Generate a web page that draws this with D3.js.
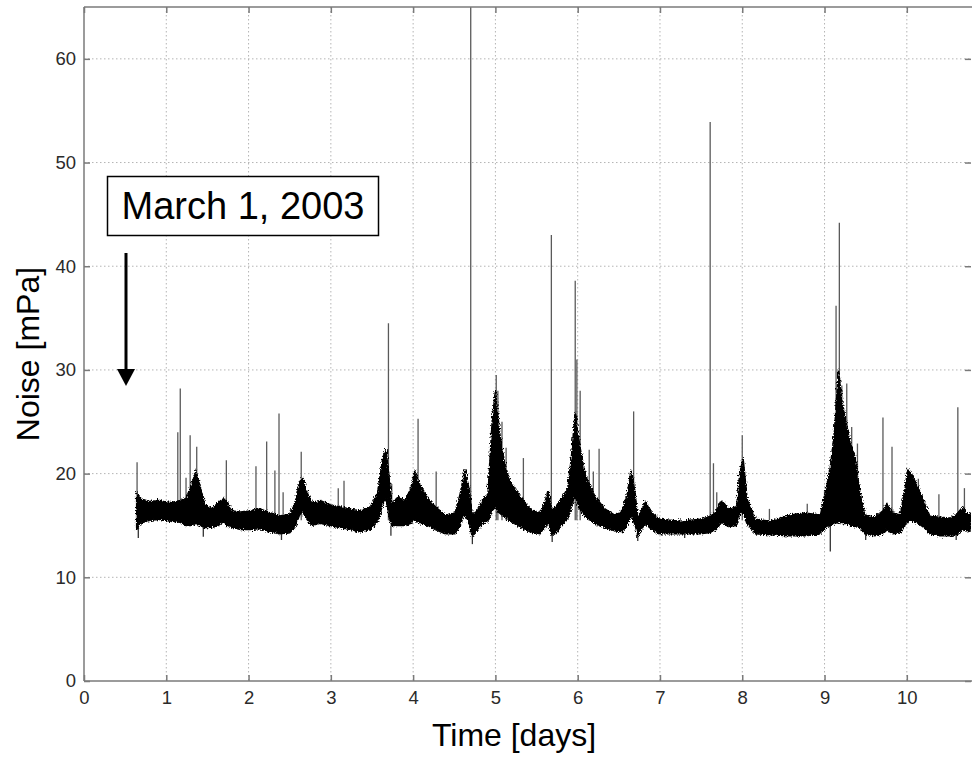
<!DOCTYPE html>
<html>
<head>
<meta charset="utf-8">
<script src="https://cdn.jsdelivr.net/npm/d3@7"></script>
<style>
  body { margin: 0; background: #fff; }
  svg { display: block; font-family: "Liberation Sans", Arial, sans-serif; }
</style>
</head>
<body>
<script>
// envelope of the noise band: time (days), upper and lower edge (mPa)
let bandT = [0.64, 0.68, 0.80, 0.92, 1.05, 1.17, 1.24, 1.31, 1.36, 1.41, 1.47, 1.56, 1.63, 1.70, 1.75, 1.81, 1.90, 2.02,
  2.14, 2.26, 2.38, 2.50, 2.56, 2.62, 2.66, 2.71, 2.77, 2.87, 2.99, 3.11, 3.23, 3.35, 3.48, 3.57, 3.63, 3.67, 3.71,
  3.74, 3.82, 3.90, 3.97, 4.02, 4.08, 4.18, 4.27, 4.39, 4.51, 4.57, 4.63, 4.68, 4.72, 4.78, 4.85, 4.91, 4.96, 5.00,
  5.05, 5.11, 5.18, 5.30, 5.42, 5.54, 5.60, 5.64, 5.69, 5.75, 5.82, 5.88, 5.93, 5.97, 6.00, 6.04, 6.10, 6.21, 6.33,
  6.45, 6.54, 6.60, 6.65, 6.70, 6.73, 6.82, 6.90, 7.00, 7.24, 7.49, 7.59, 7.67, 7.75, 7.83, 7.93, 7.97, 8.01, 8.06,
  8.16, 8.34, 8.58, 8.76, 8.95, 9.02, 9.07, 9.12, 9.17, 9.21, 9.26, 9.31, 9.37, 9.43, 9.49, 9.61, 9.71, 9.76, 9.83,
  9.92, 9.98, 10.01, 10.08, 10.14, 10.21, 10.28, 10.40, 10.53, 10.62, 10.68, 10.74, 10.78];
let bandHi = [18.2, 17.6, 17.3, 17.4, 17.2, 17.4, 17.6, 19.0, 20.2, 18.8, 17.0, 16.6, 17.2, 17.6, 17.0, 16.4, 16.3, 16.4,
  16.6, 16.2, 15.9, 16.1, 17.0, 19.2, 19.6, 18.2, 17.2, 17.4, 17.0, 16.8, 16.6, 16.4, 16.8, 18.2, 21.5, 22.4, 19.5,
  17.0, 17.8, 17.4, 18.5, 20.2, 19.0, 17.6, 16.8, 16.0, 16.2, 18.0, 20.4, 18.5, 16.0, 16.4, 17.6, 18.0, 25.0, 28.0,
  24.0, 21.0, 19.2, 17.8, 16.6, 16.2, 17.2, 18.4, 16.4, 17.0, 17.8, 18.6, 22.0, 26.0, 24.0, 22.0, 19.6, 17.8, 16.6,
  16.0, 16.4, 18.0, 20.4, 18.0, 15.6, 17.3, 16.2, 15.6, 15.4, 15.6, 15.8, 16.2, 17.4, 16.6, 16.8, 20.0, 21.5, 17.5,
  15.6, 15.4, 16.0, 16.2, 16.0, 18.6, 20.6, 24.0, 30.0, 27.0, 25.0, 23.0, 21.6, 18.2, 16.0, 15.8, 16.4, 17.1, 16.2,
  16.0, 18.6, 20.4, 19.6, 18.6, 17.2, 15.9, 15.8, 15.7, 16.2, 16.8, 16.0, 16.2];
let bandLo = [14.6, 15.2, 15.5, 15.6, 15.4, 15.3, 15.0, 15.0, 15.2, 15.0, 14.8, 14.8, 15.0, 15.4, 14.9, 14.8, 14.6, 14.6,
  14.7, 14.4, 14.2, 14.3, 14.8, 16.0, 16.4, 15.6, 15.0, 15.2, 15.0, 14.8, 14.6, 14.4, 14.6, 15.4, 17.0, 17.6, 15.8,
  15.0, 15.0, 15.0, 15.2, 15.6, 15.2, 15.0, 14.6, 14.2, 14.2, 15.0, 16.2, 15.2, 13.9, 14.6, 15.2, 15.4, 16.4, 16.8,
  16.2, 15.8, 15.4, 14.9, 14.4, 14.2, 14.8, 15.4, 14.0, 14.4, 15.2, 15.6, 17.0, 18.0, 17.0, 16.4, 15.8, 15.2, 14.8,
  14.5, 14.4, 15.0, 16.0, 15.0, 14.0, 15.2, 14.6, 14.2, 14.2, 14.2, 14.3, 14.5, 15.3, 14.9, 15.0, 16.0, 16.4, 15.2,
  14.2, 14.1, 14.0, 14.0, 14.2, 14.8, 15.0, 15.2, 15.4, 15.2, 15.2, 15.0, 14.9, 14.8, 14.2, 14.0, 14.2, 14.6, 14.2,
  14.3, 15.0, 15.4, 15.4, 15.2, 14.8, 14.2, 14.0, 14.0, 14.2, 14.6, 14.4, 14.5];

// isolated spikes above the band: time and peak
let spikeT = [0.645, 1.14, 1.17, 1.24, 1.29, 1.37, 1.41, 1.73, 2.09, 2.22, 2.32, 2.37, 2.42, 2.64, 3.09, 3.16, 3.70,
  3.74, 4.06, 4.28, 4.70, 5.01, 5.03, 5.08, 5.13, 5.34, 5.68, 5.97, 5.99, 6.03, 6.14, 6.19, 6.26, 6.68, 7.61, 7.65,
  7.69, 8.00, 8.33, 8.79, 9.00, 9.14, 9.18, 9.21, 9.27, 9.33, 9.40, 9.71, 9.82, 10.08, 10.14, 10.39, 10.62, 10.70];
let spikeTop = [21.1, 24.0, 28.2, 19.6, 23.7, 22.6, 19.0, 21.3, 20.7, 23.1, 20.3, 25.8, 18.2, 22.1, 18.6, 19.3, 34.5,
  19.0, 25.3, 20.2, 70.0, 29.5, 28.0, 25.0, 22.5, 21.5, 43.0, 38.6, 31.0, 28.0, 22.3, 20.2, 22.4, 26.0, 53.9, 21.0,
  18.2, 23.7, 16.6, 17.1, 18.4, 36.2, 44.2, 28.5, 28.7, 24.5, 22.9, 25.4, 22.6, 19.8, 19.5, 18.0, 26.4, 18.6];

// dips below the band: time and bottom
let dipT = [0.66, 1.45, 2.40, 3.73, 4.72, 5.69, 6.73, 7.30, 9.07, 9.50, 10.60];
let dipLow = [13.8, 13.9, 13.6, 14.0, 13.2, 13.4, 13.5, 13.8, 12.5, 13.6, 13.6];

let xTicks = [0, 1, 2, 3, 4, 5, 6, 7, 8, 9, 10];
let yTicks = [0, 10, 20, 30, 40, 50, 60];

const W = 972, H = 757;
const pL = 84, pT = 7, pR = 971, pB = 681;

const svg = d3.select("body").append("svg").attr("width", W).attr("height", H);

let x = d3.scaleLinear().domain([0, 10.78]).range([pL, pR]);
let y = d3.scaleLinear().domain([0, 65]).range([pB, pT]);

let defs = svg.append("defs");
defs.append("clipPath").attr("id", "plot")
  .append("rect").attr("x", pL).attr("y", pT).attr("width", pR - pL).attr("height", pB - pT);

let rough = defs.append("filter").attr("id", "rough")
  .attr("x", "-5%").attr("y", "-20%").attr("width", "110%").attr("height", "140%");
rough.append("feTurbulence").attr("type", "fractalNoise").attr("baseFrequency", "1.2 0.6")
  .attr("numOctaves", 2).attr("seed", 3).attr("result", "n");
rough.append("feDisplacementMap").attr("in", "SourceGraphic").attr("in2", "n")
  .attr("scale", 5).attr("xChannelSelector", "R").attr("yChannelSelector", "G");

//grid
let grid = svg.append("g").attr("stroke", "#b4b4b4").attr("stroke-width", 1).attr("stroke-dasharray", "1.5,2.5");
grid.selectAll(".gx").data(xTicks.filter(d => d > 0)).enter().append("line")
  .attr("x1", d => x(d)).attr("x2", d => x(d)).attr("y1", pT).attr("y2", pB);
grid.selectAll(".gy").data(yTicks.filter(d => d > 0)).enter().append("line")
  .attr("x1", pL).attr("x2", pR).attr("y1", d => y(d)).attr("y2", d => y(d));

let plot = svg.append("g").attr("clip-path", "url(#plot)");

//spikes
plot.selectAll(".spike").data(spikeT).enter().append("line")
  .attr("x1", d => x(d)).attr("x2", d => x(d))
  .attr("y1", y(15.5)).attr("y2", (d, i) => y(spikeTop[i]))
  .attr("stroke", "#5a5a5a").attr("stroke-width", 1.3);

plot.selectAll(".dip").data(dipT).enter().append("line")
  .attr("x1", d => x(d)).attr("x2", d => x(d))
  .attr("y1", y(15)).attr("y2", (d, i) => y(dipLow[i]))
  .attr("stroke", "#333").attr("stroke-width", 1.3);

//noise band
let band = d3.area()
  .x(d => x(d))
  .y0((d, i) => y(bandLo[i]))
  .y1((d, i) => y(bandHi[i]));

plot.append("g").attr("filter", "url(#rough)")
  .append("path").datum(bandT).attr("d", band)
  .attr("fill", "#000").attr("stroke", "#000").attr("stroke-width", 1.5);

//axes box
let axisColor = "#7a7a7a";
svg.append("line").attr("x1", pL).attr("x2", W).attr("y1", pT).attr("y2", pT)
  .attr("stroke", axisColor).attr("stroke-width", 1.5);
svg.append("line").attr("x1", pL).attr("x2", W).attr("y1", pB).attr("y2", pB)
  .attr("stroke", axisColor).attr("stroke-width", 1.5);
svg.append("line").attr("x1", pL).attr("x2", pL).attr("y1", pT).attr("y2", pB)
  .attr("stroke", axisColor).attr("stroke-width", 1.5);

let xAxis = d3.axisBottom(x).tickValues(xTicks).tickSize(-6).tickPadding(10).tickSizeOuter(0);
let xg = svg.append("g").attr("transform", "translate(0," + pB + ")").call(xAxis);
let xAxisTop = d3.axisTop(x).tickValues(xTicks).tickSize(-6).tickFormat("").tickSizeOuter(0);
let xgt = svg.append("g").attr("transform", "translate(0," + pT + ")").call(xAxisTop);
let yAxis = d3.axisLeft(y).tickValues(yTicks).tickSize(-6).tickPadding(8).tickSizeOuter(0);
let yg = svg.append("g").attr("transform", "translate(" + pL + ",0)").call(yAxis);
let yAxisRight = d3.axisRight(y).tickValues(yTicks).tickSize(-6).tickFormat("").tickSizeOuter(0);
let ygr = svg.append("g").attr("transform", "translate(" + pR + ",0)").call(yAxisRight);

[xg, xgt, yg, ygr].forEach(g => {
  g.select(".domain").remove();
  g.selectAll(".tick line").attr("stroke", axisColor).attr("stroke-width", 1.5);
  g.selectAll(".tick text").attr("fill", "#2a2a2a").style("font-size", "18.5px");
});

svg.append("text").attr("x", 514).attr("y", 746)
  .attr("text-anchor", "middle").style("font-size", "32px").attr("fill", "#000")
  .text("Time [days]");

svg.append("text").attr("transform", "translate(39," + 354 + ") rotate(-90)")
  .attr("text-anchor", "middle").style("font-size", "32px").attr("fill", "#000")
  .text("Noise [mPa]");

//annotation
svg.append("rect").attr("x", 107.5).attr("y", 176.5).attr("width", 271).attr("height", 59)
  .attr("fill", "#fff").attr("stroke", "#000").attr("stroke-width", 1.5);
svg.append("text").attr("x", 243).attr("y", 219).attr("text-anchor", "middle")
  .style("font-size", "38px").attr("fill", "#000").text("March 1, 2003");

svg.append("line").attr("x1", 126).attr("x2", 126).attr("y1", 253).attr("y2", 372)
  .attr("stroke", "#000").attr("stroke-width", 3);
svg.append("path").attr("d", "M117,369 L135,369 L126,386 Z").attr("fill", "#000");
</script>
</body>
</html>
